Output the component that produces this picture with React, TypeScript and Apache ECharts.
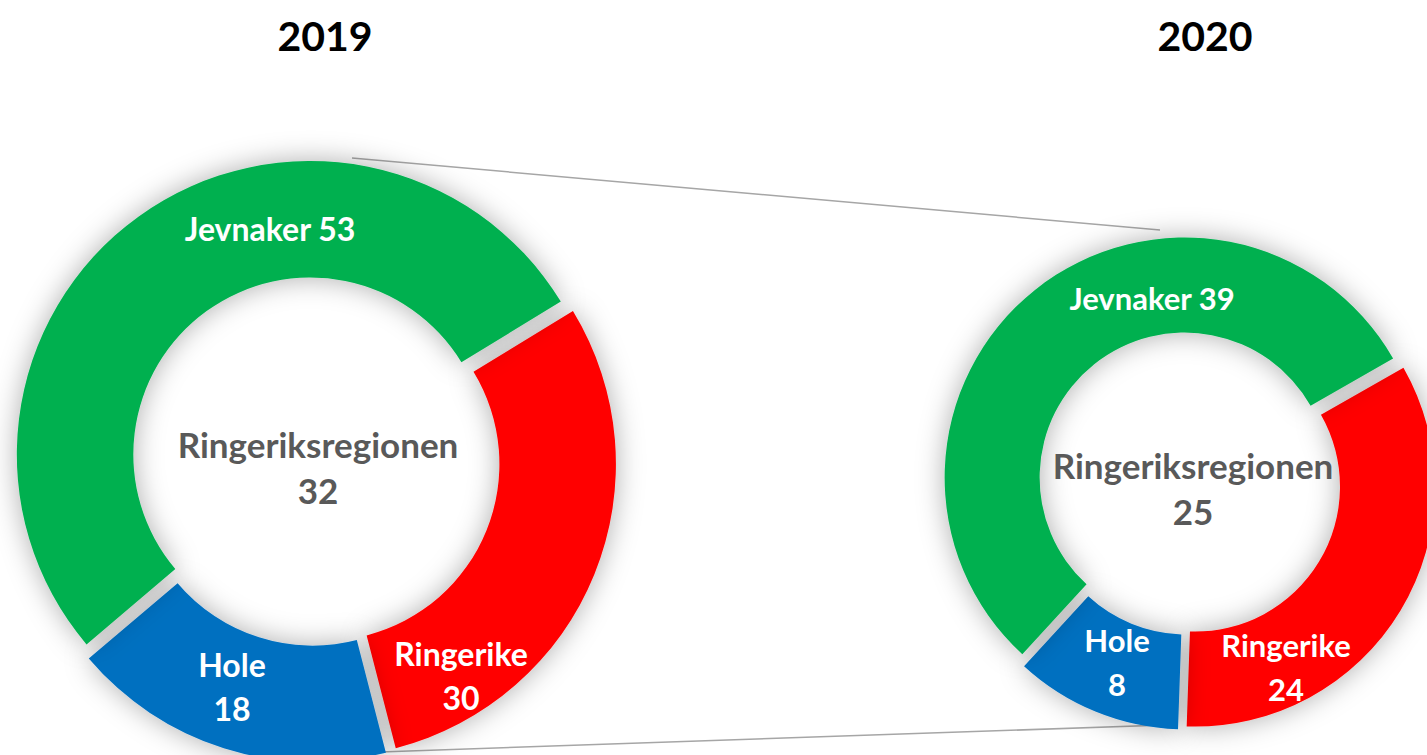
import React, { useEffect, useRef } from "react";
import * as echarts from "echarts";

const categories = ["Ringerike", "Hole", "Jevnaker"];
const values2019 = [30, 18, 53];
const values2020 = [24, 8, 39];
const years = ["2019", "2020"];
const regionName = "Ringeriksregionen";
const regionValues = [32, 25];
const colors = ["#FF0000", "#0070C0", "#00B050"];

// label anchor positions (pixels) per pie / category (centre of text block)
const labelPos = [
  [[461, 675], [232, 686], [270, 228]],
  [[1286, 667], [1117, 662], [1152, 298]],
];
const centerPos = [[318, 467], [1193, 488]];
const titlePos = [[325, 35], [1205, 35]];

const FONT = "Lato, 'Open Sans', sans-serif";

export default function App() {
  const ref = useRef<HTMLDivElement>(null);
  useEffect(() => {
    if (!ref.current) return;
    const chart = echarts.init(ref.current, undefined, { renderer: "svg" });
    const mkSeries = (
      vals: number[],
      center: [number, number],
      radius: [number, number],
      startAngle: number,
      offset: number
    ) => ({
      type: "pie",
      center,
      radius,
      startAngle,
      clockwise: true,
      selectedMode: "multiple",
      selectedOffset: offset,
      itemStyle: {
        borderWidth: 0,
        shadowBlur: 28,
        shadowColor: "rgba(0,0,0,0.32)",
      },
      emphasis: { disabled: true },
      label: { show: false },
      labelLine: { show: false },
      data: categories.map((c, i) => ({
        name: c,
        value: vals[i],
        selected: true,
        itemStyle: { color: colors[i] },
        select: { itemStyle: { color: colors[i], borderWidth: 0 } },
      })),
    });
    const allVals = [values2019, values2020];
    const texts: any[] = [];
    allVals.forEach((vals, s) => {
      vals.forEach((v, i) => {
        const name = categories[i];
        texts.push({
          type: "text",
          z: 100,
          x: labelPos[s][i][0],
          y: labelPos[s][i][1],
          style: {
            text: i === 2 ? `${name} ${v}` : `${name}\n${v}`,
            fill: "#ffffff",
            font: `bold ${s === 0 ? 32 : 31}px ${FONT}`,
            lineHeight: 44,
            align: "center",
            verticalAlign: "middle",
          },
        });
      });
      texts.push({
        type: "text",
        z: 100,
        x: centerPos[s][0],
        y: centerPos[s][1],
        style: {
          text: `${regionName}\n${regionValues[s]}`,
          fill: "#595959",
          font: `bold 35px ${FONT}`,
          lineHeight: 46,
          align: "center",
          verticalAlign: "middle",
        },
      });
      texts.push({
        type: "text",
        z: 100,
        x: titlePos[s][0],
        y: titlePos[s][1],
        style: {
          text: years[s],
          fill: "#000000",
          font: `bold 41px ${FONT}`,
          align: "center",
          verticalAlign: "middle",
        },
      });
    });
    chart.setOption({
      animation: false,
      backgroundColor: "#ffffff",
      graphic: [
        { type: "line", z: -1, shape: { x1: 352, y1: 158, x2: 1160, y2: 230 }, style: { stroke: "#a6a6a6", lineWidth: 1.5 } },
        { type: "line", z: -1, shape: { x1: 380, y1: 752, x2: 1165, y2: 725 }, style: { stroke: "#a6a6a6", lineWidth: 1.5 } },
        ...texts,
      ],
      series: [
        mkSeries(values2019, [315, 461], [177, 293.5], 31.4, 8),
        mkSeries(values2020, [1189, 483], [145, 240], 29.7, 7),
      ],
    });
    return () => chart.dispose();
  }, []);
  return <div ref={ref} style={{ position: "fixed", left: 0, top: 0, width: 1427, height: 755 }} />;
}
